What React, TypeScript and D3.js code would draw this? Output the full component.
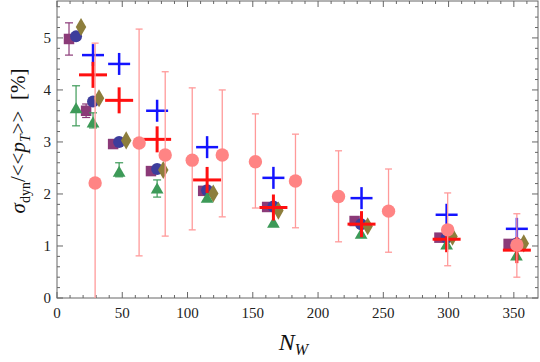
import * as d3 from "d3";

// N_W positions and sigma_dyn/<<pT>> [%] values per series
const pinkX = [29.2, 62.9, 82.9, 103.6, 126.6, 152, 182.7, 215.7, 254, 299.3, 352.3];
const pinkY = [2.21, 2.98, 2.75, 2.65, 2.75, 2.62, 2.25, 1.95, 1.67, 1.31, 1.02];
const pinkHi = [4.9, 5.17, 4.35, 4.04, 4.0, 3.54, 3.15, 2.83, 2.48, 2.02, 1.62];
const pinkLo = [-0.6, 0.81, 1.19, 1.31, 1.56, 1.73, 1.35, 1.08, 0.88, 0.62, 0.4];

const crossX = [27.6, 47.6, 76.7, 115, 165.8, 233.3, 298.5, 352.3];
const blueY = [4.67, 4.5, 3.6, 2.9, 2.31, 1.92, 1.6, 1.33];
const redY = [4.29, 3.8, 3.05, 2.27, 1.74, 1.42, 1.13, 0.92];

const squareX = [9.2, 22.3, 43, 72, 112, 161, 228, 293, 346];
const squareY = [4.98, 3.6, 2.96, 2.44, 2.06, 1.75, 1.48, 1.16, 1.04];
const squareErr = [0.31, 0.13, 0, 0, 0, 0, 0, 0, 0];

const circleX = [14.6, 27.6, 47.6, 76.7, 115, 165.8, 233, 298.5, 352];
const circleY = [5.03, 3.78, 3.0, 2.48, 2.07, 1.76, 1.42, 1.16, 1.05];

const diamondX = [18.4, 32.2, 53, 81.4, 119.7, 169.6, 238, 303, 357.6];
const diamondY = [5.21, 3.84, 3.03, 2.46, 2.01, 1.68, 1.38, 1.18, 1.05];

const triX = [14.6, 27.6, 47.6, 76.7, 115, 165.8, 233, 298.5, 352];
const triY = [3.64, 3.37, 2.42, 2.1, 1.92, 1.44, 1.23, 1.02, 0.81];
const triHi = [4.08, 3.56, 2.6, 2.27, 0, 0, 0, 0, 0];
const triLo = [3.31, 3.27, 2.33, 1.94, 0, 0, 0, 0, 0];

const xTicks = [0, 50, 100, 150, 200, 250, 300, 350];
const yTicks = [0, 1, 2, 3, 4, 5];

const W = 540, H = 362;
const margin = { top: 1, right: 2, bottom: 64, left: 57 };

const serif = { fontFamily: "'Liberation Serif', 'Times New Roman', 'DejaVu Serif', serif" };

export default function App() {
  const x = d3.scaleLinear().domain([0, 368.5]).range([margin.left, W - margin.right]);
  const y = d3.scaleLinear().domain([0, 5.71]).range([H - margin.bottom, margin.top]);

  const x0 = margin.left, x1 = W - margin.right;
  const y0 = H - margin.bottom, y1 = margin.top;

  const xMinor = d3.range(0, 369, 10);
  const yMinor = d3.range(0, 5.71, 0.2);

  const tri = d3.symbol().type(d3.symbolTriangle).size(70)();
  const sq = d3.symbol().type(d3.symbolSquare).size(110)();
  const dia = d3.symbol().type(d3.symbolDiamond).size(95)();

  const axisColor = "#666";

  return (
    <svg width={W} height={H} style={{ position: "absolute", left: 0, top: 0 }}>
      <defs>
        <clipPath id="plot">
          <rect x={x0} y={y1} width={x1 - x0} height={y0 - y1} />
        </clipPath>
      </defs>
      <rect x={0} y={0} width={W} height={H} fill="white" />

      {/* ticks on all sides */}
      <g stroke={axisColor} strokeWidth={1}>
        {xMinor.map((t) => {
          const len = t % 50 === 0 ? 6 : 3;
          return (
            <g key={"xt" + t}>
              <line x1={x(t)} x2={x(t)} y1={y0} y2={y0 - len} />
              <line x1={x(t)} x2={x(t)} y1={y1} y2={y1 + len} />
            </g>
          );
        })}
        {yMinor.map((t, i) => {
          const len = i % 5 === 0 ? 6 : 3;
          return (
            <g key={"yt" + i}>
              <line x1={x0} x2={x0 + len} y1={y(t)} y2={y(t)} />
              <line x1={x1} x2={x1 - len} y1={y(t)} y2={y(t)} />
            </g>
          );
        })}
      </g>
      <rect x={x0} y={y1} width={x1 - x0} height={y0 - y1} fill="none" stroke={axisColor} strokeWidth={1} />

      {xTicks.map((t) => (
        <text key={"xl" + t} x={x(t)} y={y0 + 20} textAnchor="middle" fontSize={15} fill="#222" style={serif}>{t}</text>
      ))}
      {yTicks.map((t) => (
        <text key={"yl" + t} x={x0 - 6} y={y(t) + 5} textAnchor="end" fontSize={15} fill="#222" style={serif}>{t}</text>
      ))}

      <g clipPath="url(#plot)">
        {/* squares */}
        {squareX.map((v, i) => (
          <g key={"sq" + i} stroke="#8b3a78" fill="#8b3a78">
            {squareErr[i] > 0 && (
              <g strokeWidth={1.2}>
                <line x1={x(v)} x2={x(v)} y1={y(squareY[i] - squareErr[i])} y2={y(squareY[i] + squareErr[i])} />
                <line x1={x(v) - 4} x2={x(v) + 4} y1={y(squareY[i] - squareErr[i])} y2={y(squareY[i] - squareErr[i])} />
                <line x1={x(v) - 4} x2={x(v) + 4} y1={y(squareY[i] + squareErr[i])} y2={y(squareY[i] + squareErr[i])} />
              </g>
            )}
            <path d={sq} transform={`translate(${x(v)},${y(squareY[i])})`} stroke="none" />
          </g>
        ))}
        {/* navy circles */}
        {circleX.map((v, i) => (
          <circle key={"c" + i} cx={x(v)} cy={y(circleY[i])} r={6} fill="#3d3d9c" />
        ))}
        {/* diamonds */}
        {diamondX.map((v, i) => (
          <path key={"d" + i} d={dia} transform={`translate(${x(v)},${y(diamondY[i])})`} fill="#8d7e3c" />
        ))}
        {/* triangles */}
        {triX.map((v, i) => (
          <g key={"t" + i} stroke="#3d9a58" fill="#3d9a58">
            {triHi[i] > 0 && (
              <g strokeWidth={1.2}>
                <line x1={x(v)} x2={x(v)} y1={y(triLo[i])} y2={y(triHi[i])} />
                <line x1={x(v) - 4} x2={x(v) + 4} y1={y(triLo[i])} y2={y(triLo[i])} />
                <line x1={x(v) - 4} x2={x(v) + 4} y1={y(triHi[i])} y2={y(triHi[i])} />
              </g>
            )}
            <path d={tri} transform={`translate(${x(v)},${y(triY[i]) + 1})`} stroke="none" />
          </g>
        ))}
        {/* blue crosses */}
        {crossX.map((v, i) => (
          <g key={"b" + i} stroke="#1414ff" strokeWidth={2.5}>
            <line x1={x(v) - 11} x2={x(v) + 11} y1={y(blueY[i])} y2={y(blueY[i])} />
            <line x1={x(v)} x2={x(v)} y1={y(blueY[i]) - 11} y2={y(blueY[i]) + 11} />
          </g>
        ))}
        {/* red crosses */}
        {crossX.map((v, i) => (
          <g key={"r" + i} stroke="#ff1010" strokeWidth={3}>
            <line x1={x(v) - 14} x2={x(v) + 14} y1={y(redY[i])} y2={y(redY[i])} />
            <line x1={x(v)} x2={x(v)} y1={y(redY[i]) - 13} y2={y(redY[i]) + 13} />
          </g>
        ))}
        {/* pink circles with error bars */}
        {pinkX.map((v, i) => (
          <g key={"p" + i}>
            <g stroke="#ff9a9a" strokeWidth={1.3}>
              <line x1={x(v)} x2={x(v)} y1={y(pinkLo[i])} y2={y(pinkHi[i])} />
              <line x1={x(v) - 3.5} x2={x(v) + 3.5} y1={y(pinkLo[i])} y2={y(pinkLo[i])} />
              <line x1={x(v) - 3.5} x2={x(v) + 3.5} y1={y(pinkHi[i])} y2={y(pinkHi[i])} />
            </g>
            <circle cx={x(v)} cy={y(pinkY[i])} r={6.7} fill="#ff8484" />
          </g>
        ))}
      </g>

      {/* axis titles */}
      <text transform={`translate(25, 141) rotate(-90)`} textAnchor="middle" fontSize={21} fill="#111" style={serif}>
        <tspan fontStyle="italic">σ</tspan>
        <tspan fontSize={14} dy={5}>dyn</tspan>
        <tspan dy={-5}>/&lt;&lt;</tspan>
        <tspan fontStyle="italic">p</tspan>
        <tspan fontStyle="italic" fontSize={14} dy={5}>T</tspan>
        <tspan dy={-5}>{">>\u00a0\u00a0[%]"}</tspan>
      </text>
      <text x={(x0 + x1) / 2 - 4} y={H - 12} textAnchor="middle" fontSize={24} fill="#111" style={serif}>
        <tspan fontStyle="italic">N</tspan>
        <tspan fontStyle="italic" fontSize={16} dy={5}>W</tspan>
      </text>
    </svg>
  );
}
